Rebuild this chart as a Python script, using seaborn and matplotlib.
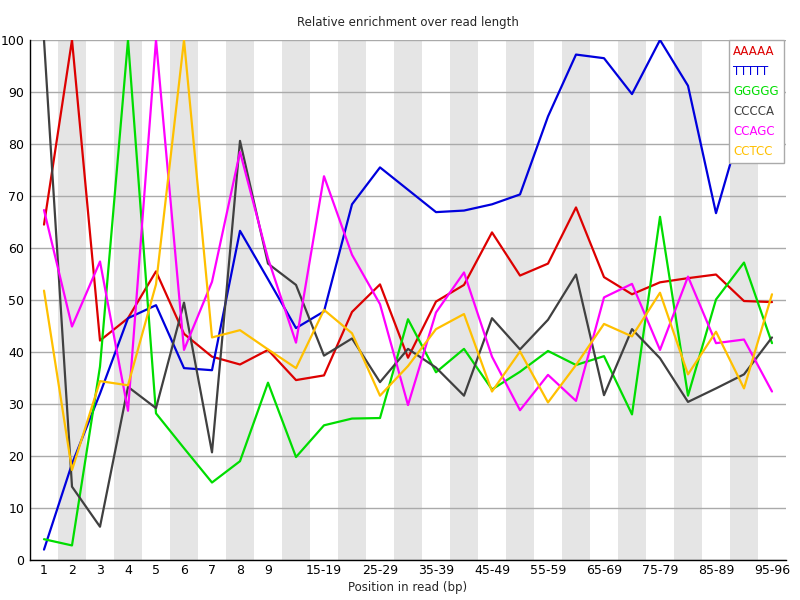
import matplotlib
matplotlib.use("Agg")
import matplotlib.pyplot as plt
import seaborn as sns
import pandas as pd
import numpy as np

positions = ["1", "2", "3", "4", "5", "6", "7", "8", "9", "10-14", "15-19", "20-24",
             "25-29", "30-34", "35-39", "40-44", "45-49", "50-54", "55-59", "60-64",
             "65-69", "70-74", "75-79", "80-84", "85-89", "90-94", "95-96"]
shown_labels = ["1", "2", "3", "4", "5", "6", "7", "8", "9", "", "15-19", "",
                "25-29", "", "35-39", "", "45-49", "", "55-59", "", "65-69", "",
                "75-79", "", "85-89", "", "95-96"]

aaaaa = [64.5, 100, 42.2, 46.5, 55.5, 43.5, 39.1, 37.6, 40.4, 34.6, 35.5, 47.7, 53.0,
         38.9, 49.7, 52.9, 63.0, 54.7, 57.0, 67.8, 54.4, 51.1, 53.4, 54.2, 54.9, 49.8, 49.6]
ttttt = [2.0, 18.5, 32.0, 46.5, 49.0, 36.9, 36.5, 63.3, 54.0, 44.6, 47.8, 68.4, 75.5,
         71.2, 66.9, 67.2, 68.4, 70.3, 85.3, 97.2, 96.5, 89.6, 100, 91.2, 66.7, 85.3, 88.0]
ggggg = [4.0, 2.8, 37.2, 100, 28.2, 21.5, 14.9, 19.0, 34.1, 19.8, 25.9, 27.2, 27.3,
         46.3, 36.1, 40.6, 32.8, 36.2, 40.2, 37.5, 39.2, 28.0, 66.0, 31.6, 50.1, 57.2, 41.7]
cccca = [100, 14.1, 6.4, 33.3, 29.2, 49.5, 20.7, 80.6, 57.0, 52.9, 39.3, 42.6, 34.2,
         40.6, 37.0, 31.6, 46.5, 40.5, 46.2, 54.9, 31.7, 44.4, 38.8, 30.4, 33.0, 35.7, 42.8]
ccagc = [67.3, 44.9, 57.4, 28.7, 100, 40.4, 53.5, 78.5, 58.0, 41.8, 73.8, 58.7, 49.2,
         29.8, 47.6, 55.3, 39.1, 28.8, 35.6, 30.6, 50.5, 53.1, 40.4, 54.5, 41.7, 42.4, 32.4]
cctcc = [51.8, 17.3, 34.4, 33.6, 53.0, 100, 42.8, 44.2, 40.5, 36.9, 48.1, 43.6, 31.6,
         37.3, 44.4, 47.3, 32.4, 40.1, 30.3, 37.5, 45.4, 43.0, 51.4, 35.7, 43.9, 33.0, 51.1]

series_names = ["AAAAA", "TTTTT", "GGGGG", "CCCCA", "CCAGC", "CCTCC"]
series_values = [aaaaa, ttttt, ggggg, cccca, ccagc, cctcc]
colors = ["#dd0000", "#0000dd", "#00dd00", "#404040", "#ff00ff", "#ffc000"]

rows = []
for name, vals in zip(series_names, series_values):
    for i, v in enumerate(vals):
        rows.append({"idx": i, "value": v, "kmer": name})
df = pd.DataFrame(rows)

sns.set_style("white")
plt.rcParams["font.family"] = ["DejaVu Sans"]

fig = plt.figure(figsize=(8, 6), dpi=100)
ax = fig.add_axes([30 / 800, 40 / 600, 756 / 800, 520 / 600])

n = len(positions)
for i in range(n):
    if i % 2 == 1:
        ax.axvspan(i - 0.5, i + 0.5, color="#e5e5e5", lw=0, zorder=0)

ax.set_yticks(np.arange(0, 101, 10))
ax.yaxis.grid(True, color="#aaaaaa", lw=1, zorder=1)
ax.xaxis.grid(False)
ax.set_axisbelow(True)

sns.lineplot(data=df, x="idx", y="value", hue="kmer", hue_order=series_names,
             palette=colors, linewidth=1.6, ax=ax, legend=False, zorder=3)

ax.set_xlim(-0.5, n - 0.5)
ax.set_ylim(0, 100)
ax.set_xticks(range(n))
ax.set_xticklabels(shown_labels)
ax.tick_params(axis="both", length=0, labelsize=9, colors="black")
ax.tick_params(axis="x", pad=3)
ax.tick_params(axis="y", pad=4)

for s in ["top", "right"]:
    ax.spines[s].set_visible(False)
for s in ["left", "bottom"]:
    ax.spines[s].set_color("black")
    ax.spines[s].set_linewidth(1)
    ax.spines[s].set_zorder(4)

ax.set_xlabel("Position in read (bp)", fontsize=8.5, labelpad=3)
ax.set_ylabel("")
ax.set_title("Relative enrichment over read length", fontsize=8.5, pad=10)

handles = [plt.Line2D([], [], color=c, lw=0) for c in colors]
leg = ax.legend(handles, series_names, loc="upper right", bbox_to_anchor=(0.997, 1.0),
                borderaxespad=0, handlelength=0, handletextpad=0, fontsize=8.5,
                frameon=True, fancybox=False, framealpha=1, edgecolor="#aaaaaa",
                labelspacing=0.6, borderpad=0.4)
leg.set_zorder(5)
for txt, c in zip(leg.get_texts(), colors):
    txt.set_color(c)

fig.savefig("out.png", dpi=100)
